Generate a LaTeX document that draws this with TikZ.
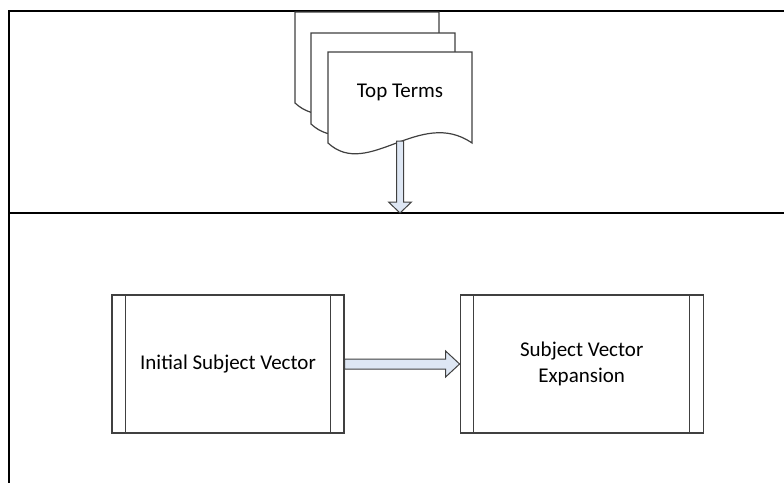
\documentclass[tikz,border=0pt]{standalone}
\usepackage{fontspec}
\setmainfont{Carlito}
\usepackage{tikz}
\usetikzlibrary{positioning,calc}
\definecolor{linegray}{RGB}{64,64,64}
\definecolor{arrowfill}{RGB}{222,231,244}

\begin{document}
\begin{tikzpicture}[
    x=1pt, y=-1pt,
    lane/.style={draw=black, line width=1.6pt},
    docshape/.style={draw=linegray, fill=white, line width=1.2pt},
    procbox/.style={rectangle, draw=linegray, line width=1.2pt, minimum width=232pt, minimum height=138pt, align=center, font=\fontsize{21}{26}\selectfont},
    blockarrow/.style={draw=linegray, fill=arrowfill, line width=1pt, line join=miter}
]
\useasboundingbox (0,0) rectangle (784,483);

% swimlanes
\draw[lane] (784,11) -- (9,11) -- (9,213);
\draw[lane] (784,213) -- (9,213) -- (9,483);

% stacked documents
\foreach \dx/\dy in {295/12, 311/33, 328/52}
  \draw[docshape] (\dx,\dy+91) -- (\dx,\dy) -- (\dx+144,\dy) -- (\dx+144,\dy+91)
    .. controls (\dx+92,\dy+55) and (\dx+40,\dy+128) .. cycle;
\node[font=\fontsize{21}{26}\selectfont] (topterms) at (400,92) {Top Terms};
\coordinate (docbot) at (400,141);
\coordinate (lanetop) at (400,213);

% processes
\node[procbox] (initvec) at (228,364) {Initial Subject Vector};
\node[procbox, minimum width=243pt, right=115pt of initvec] (expand) {Subject Vector\\Expansion};
\foreach \procname in {initvec, expand} {
  \draw[linegray, line width=1.2pt] ([xshift=14pt]\procname.north west) -- ([xshift=14pt]\procname.south west);
  \draw[linegray, line width=1.2pt] ([xshift=-14pt]\procname.north east) -- ([xshift=-14pt]\procname.south east);
}

% arrows
\draw[blockarrow] let \p1=(docbot), \p2=(lanetop) in
  (\x1-3.5pt,\y1) -- (\x1-3.5pt,\y2+11pt) -- (\x1-11.5pt,\y2+11pt) -- (\x2,\y2)
  -- (\x1+11.5pt,\y2+11pt) -- (\x1+3.5pt,\y2+11pt) -- (\x1+3.5pt,\y1) -- cycle;
\draw[blockarrow] let \p1=(initvec.east), \p2=(expand.west) in
  (\x1,\y1+5pt) -- (\x2-14pt,\y1+5pt) -- (\x2-14pt,\y1+13pt) -- (\x2,\y1)
  -- (\x2-14pt,\y1-13pt) -- (\x2-14pt,\y1-5pt) -- (\x1,\y1-5pt) -- cycle;
\end{tikzpicture}
\end{document}
